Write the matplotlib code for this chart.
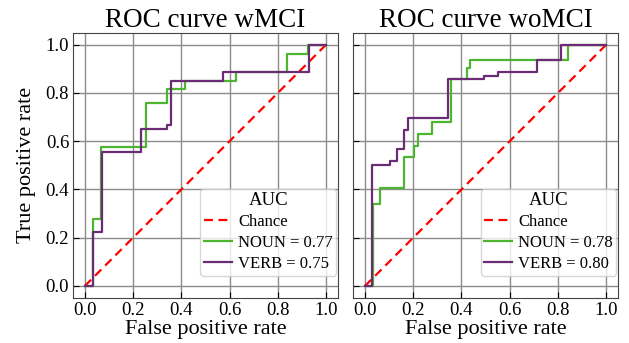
import matplotlib
matplotlib.use("Agg")
import matplotlib.pyplot as plt

plt.rcParams['font.family'] = ['Liberation Serif', 'DejaVu Serif']
plt.rcParams['mathtext.fontset'] = 'stix'

titles = ["ROC curve wMCI", "ROC curve woMCI"]
chance_x = [0, 1]
chance_y = [0, 1]

# wMCI
w_noun_fpr = [0.0, 0.034, 0.034, 0.069, 0.069, 0.252, 0.252, 0.339, 0.339, 0.414, 0.414, 0.625, 0.625, 0.839, 0.839, 0.926, 0.926, 1.0]
w_noun_tpr = [0.0, 0.0, 0.278, 0.278, 0.575, 0.575, 0.760, 0.760, 0.815, 0.815, 0.849, 0.849, 0.888, 0.888, 0.963, 0.963, 1.0, 1.0]
w_verb_fpr = [0.0, 0.034, 0.034, 0.072, 0.072, 0.234, 0.234, 0.339, 0.339, 0.356, 0.356, 0.572, 0.572, 0.928, 0.928, 1.0]
w_verb_tpr = [0.0, 0.0, 0.222, 0.222, 0.556, 0.556, 0.649, 0.649, 0.667, 0.667, 0.851, 0.851, 0.888, 0.888, 1.0, 1.0]
w_auc = [0.77, 0.75]

# woMCI
wo_noun_fpr = [0.0, 0.033, 0.033, 0.062, 0.062, 0.161, 0.161, 0.204, 0.204, 0.221, 0.221, 0.277, 0.277, 0.355, 0.355, 0.422, 0.422, 0.436, 0.436, 0.843, 0.843, 1.0]
wo_noun_tpr = [0.0, 0.0, 0.340, 0.340, 0.406, 0.406, 0.535, 0.535, 0.580, 0.580, 0.630, 0.630, 0.680, 0.680, 0.856, 0.856, 0.905, 0.905, 0.936, 0.936, 1.0, 1.0]
wo_verb_fpr = [0.0, 0.030, 0.030, 0.103, 0.103, 0.132, 0.132, 0.163, 0.163, 0.179, 0.179, 0.346, 0.346, 0.494, 0.494, 0.552, 0.552, 0.712, 0.712, 0.811, 0.811, 1.0]
wo_verb_tpr = [0.0, 0.0, 0.500, 0.500, 0.517, 0.517, 0.566, 0.566, 0.646, 0.646, 0.695, 0.695, 0.856, 0.856, 0.870, 0.870, 0.887, 0.887, 0.935, 0.935, 1.0, 1.0]
wo_auc = [0.78, 0.80]

series = [
    (w_noun_fpr, w_noun_tpr, w_verb_fpr, w_verb_tpr, w_auc),
    (wo_noun_fpr, wo_noun_tpr, wo_verb_fpr, wo_verb_tpr, wo_auc),
]

green = '#4db52f'
purple = '#6a2c74'

fig = plt.figure(figsize=(6.29, 3.43), dpi=100)
lefts = [0.1156, 0.561]
for i, (nf, nt, vf, vt, auc) in enumerate(series):
    ax = fig.add_axes([lefts[i], 0.131, 0.422, 0.774])
    ax.plot(chance_x, chance_y, color='red', ls=(0, (4, 2.5)), lw=1.6, label='Chance', zorder=3)
    ax.plot(nf, nt, color=green, lw=1.6, label=f'NOUN = {auc[0]:.2f}', zorder=3)
    ax.plot(vf, vt, color=purple, lw=1.6, label=f'VERB = {auc[1]:.2f}', zorder=4)
    ax.set_xlim(-0.05, 1.05)
    ax.set_ylim(-0.05, 1.05)
    ax.set_xticks([0, 0.2, 0.4, 0.6, 0.8, 1.0])
    ax.set_yticks([0, 0.2, 0.4, 0.6, 0.8, 1.0])
    ax.grid(True, color='#8c8c8c', lw=1.0)
    ax.set_axisbelow(True)
    ax.tick_params(direction='in', labelsize=13.5, length=4, pad=2.5)
    if i == 1:
        ax.set_yticklabels([])
    else:
        ax.set_ylabel('True positive rate', fontsize=16, labelpad=7)
    ax.set_xlabel('False positive rate', fontsize=16, labelpad=1)
    ax.set_title(titles[i], fontsize=19.5, pad=2)
    for s in ax.spines.values():
        s.set_color('#444444')
    leg = ax.legend(title='AUC', loc='lower right', bbox_to_anchor=(0.992, 0.085),
                    borderaxespad=0, fontsize=12, title_fontsize=13.5,
                    handlelength=1.7, labelspacing=0.3, borderpad=0.2,
                    handletextpad=0.35, framealpha=0.8, fancybox=True)

fig.savefig('out.png', dpi=100)
